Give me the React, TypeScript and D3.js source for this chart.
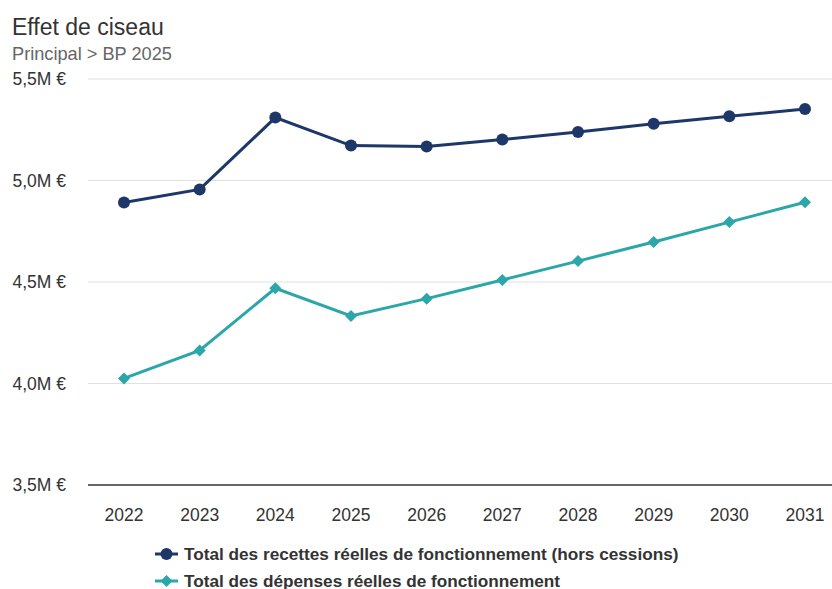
import React from "react";
import * as d3 from "d3";

const years = ["2022", "2023", "2024", "2025", "2026", "2027", "2028", "2029", "2030", "2031"];
const recettes = [4.892, 4.956, 5.310, 5.172, 5.167, 5.202, 5.239, 5.279, 5.316, 5.352];
const depenses = [4.025, 4.163, 4.469, 4.333, 4.418, 4.510, 4.603, 4.697, 4.795, 4.893];
const yTicks = [3.5, 4.0, 4.5, 5.0, 5.5];
const seriesNames = [
  "Total des recettes réelles de fonctionnement (hors cessions)",
  "Total des dépenses réelles de fonctionnement",
];
const colors = ["#1d3868", "#2ba6a9"];

const W = 832;
const H = 589;
const FONT = "'Liberation Sans', Arial, Helvetica, sans-serif";

export default function App() {
  const x = d3.scalePoint<string>().domain(years).range([124, 805]);
  const y = d3.scaleLinear().domain([3.5, 5.5]).range([485, 79]);
  const line = d3
    .line<number>()
    .x((_, i) => x(years[i]) as number)
    .y((d) => y(d));
  const fmt = (v: number) => v.toFixed(1).replace(".", ",") + "M €";
  const diamond = (cx: number, cy: number, r: number) =>
    `M${cx},${cy - r}L${cx + r},${cy}L${cx},${cy + r}L${cx - r},${cy}Z`;

  return (
    <svg
      width={W}
      height={H}
      style={{ position: "absolute", left: 0, top: 0, fontFamily: FONT }}
    >
      <rect width={W} height={H} fill="#fff" />
      <text x={12} y={35} fontSize={23} fill="#333">Effet de ciseau</text>
      <text x={12} y={60} fontSize={18.2} fill="#666">Principal &gt; BP 2025</text>

      {yTicks.map((t) => (
        <g key={t}>
          <line
            x1={88}
            x2={W}
            y1={y(t)}
            y2={y(t)}
            stroke={t === 3.5 ? "#333" : "#e0e0e0"}
            strokeWidth={t === 3.5 ? 1.5 : 1}
          />
          <text
            x={66}
            y={y(t)}
            dy="0.35em"
            textAnchor="end"
            fontSize={17.5}
            fill="#333"
          >
            {fmt(t)}
          </text>
        </g>
      ))}

      {years.map((yr) => (
        <text
          key={yr}
          x={x(yr) as number}
          y={521}
          textAnchor="middle"
          fontSize={17.5}
          fill="#333"
        >
          {yr}
        </text>
      ))}

      <path d={line(recettes) || ""} fill="none" stroke={colors[0]} strokeWidth={3} />
      {recettes.map((v, i) => (
        <circle key={i} cx={x(years[i]) as number} cy={y(v)} r={6} fill={colors[0]} />
      ))}

      <path d={line(depenses) || ""} fill="none" stroke={colors[1]} strokeWidth={3} />
      {depenses.map((v, i) => (
        <path key={i} d={diamond(x(years[i]) as number, y(v), 6)} fill={colors[1]} />
      ))}

      {seriesNames.map((name, i) => {
        const cy = 554 + i * 27;
        return (
          <g key={name}>
            <line x1={155} x2={178} y1={cy} y2={cy} stroke={colors[i]} strokeWidth={3} />
            {i === 0 ? (
              <circle cx={166.5} cy={cy} r={6} fill={colors[i]} />
            ) : (
              <path d={diamond(166.5, cy, 6)} fill={colors[i]} />
            )}
            <text x={184} y={cy} dy="0.35em" fontSize={17.2} fontWeight="bold" fill="#333">
              {name}
            </text>
          </g>
        );
      })}
    </svg>
  );
}
